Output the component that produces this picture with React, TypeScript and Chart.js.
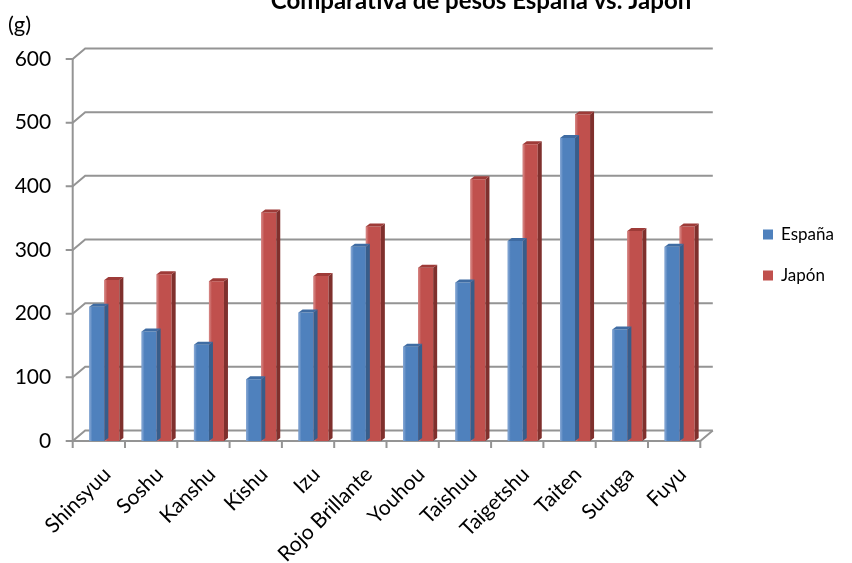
import React, { useEffect, useRef } from "react";
import { Chart, registerables } from "chart.js";

Chart.register(...registerables);

const titleText = "Comparativa de pesos España vs. Japón";
const unitLabel = "(g)";
const categories = [
  "Shinsyuu", "Soshu", "Kanshu", "Kishu", "Izu", "Rojo Brillante",
  "Youhou", "Taishuu", "Taigetshu", "Taiten", "Suruga", "Fuyu",
];
const seriesNames = ["España", "Japón"];
const espana = [211, 172, 151, 97, 202, 305, 148, 249, 314, 476, 175, 305];
const japon = [253, 262, 251, 359, 259, 337, 272, 411, 466, 513, 330, 337];
const yTicks = [0, 100, 200, 300, 400, 500, 600];

const FONT = "Lato, 'Liberation Sans', sans-serif";
const frontColors = ["#4F81BD", "#C0504D"];
const edgeColors = ["#8AAAD6", "#D88A88"];
const sideColors = ["#385D8A", "#7F302D"];
const topColors = ["#3F6CA3", "#9E3B38"];

const SHIFT = 5.5; // front frame offset from bar frame
const GDX = 12.5;
const GDY = 10.5;

const frame3d = {
  id: "frame3d",
  beforeDatasetsDraw(chart: any) {
    const { ctx, chartArea, scales } = chart;
    const y = scales.y;
    const n = categories.length;
    const cw = (chartArea.right - chartArea.left) / n;
    const xF = chartArea.left - SHIFT;
    const xR = chartArea.right - SHIFT;
    const y0 = y.getPixelForValue(0);
    const yTop = y.getPixelForValue(yTicks[yTicks.length - 1]);
    ctx.save();
    ctx.strokeStyle = "#949494";
    ctx.lineWidth = 2;
    yTicks.forEach((v) => {
      const yy = y.getPixelForValue(v);
      ctx.beginPath();
      ctx.moveTo(xF - 7, yy);
      ctx.lineTo(xF, yy);
      ctx.lineTo(xF + GDX, yy - GDY);
      ctx.lineTo(xR + GDX, yy - GDY);
      ctx.stroke();
    });
    ctx.beginPath();
    ctx.moveTo(xF, y0);
    ctx.lineTo(xR, y0);
    ctx.lineTo(xR + GDX, y0 - GDY);
    ctx.stroke();
    ctx.beginPath();
    ctx.moveTo(xF, yTop);
    ctx.lineTo(xF, y0 + 7);
    for (let i = 1; i <= n; i++) {
      const xx = xF + i * cw;
      ctx.moveTo(xx, y0);
      ctx.lineTo(xx, y0 + 7);
    }
    ctx.stroke();
    ctx.restore();
  },
  afterDatasetDraw(chart: any, args: any) {
    const { ctx } = chart;
    const meta = chart.getDatasetMeta(args.index);
    const dx = 4, dy = 3;
    ctx.save();
    meta.data.forEach((el: any) => {
      const { x, y, base, width } = el.getProps(["x", "y", "base", "width"], true);
      const l = x - width / 2;
      const r = x + width / 2;
      const g = ctx.createLinearGradient(l, 0, l + 3, 0);
      g.addColorStop(0, edgeColors[args.index]);
      g.addColorStop(1, frontColors[args.index]);
      ctx.fillStyle = g;
      ctx.fillRect(l, y, 3, base - y);
      ctx.fillStyle = sideColors[args.index];
      ctx.beginPath();
      ctx.moveTo(r, y);
      ctx.lineTo(r + dx, y - dy);
      ctx.lineTo(r + dx, base - dy);
      ctx.lineTo(r, base);
      ctx.closePath();
      ctx.fill();
      ctx.fillStyle = topColors[args.index];
      ctx.beginPath();
      ctx.moveTo(l, y);
      ctx.lineTo(l + dx, y - dy);
      ctx.lineTo(r + dx, y - dy);
      ctx.lineTo(r, y);
      ctx.closePath();
      ctx.fill();
    });
    ctx.restore();
  },
  afterDraw(chart: any) {
    const { ctx } = chart;
    ctx.save();
    ctx.fillStyle = "#000";
    ctx.font = `bold 24px ${FONT}`;
    ctx.textAlign = "center";
    ctx.textBaseline = "alphabetic";
    ctx.fillText(titleText, 481, 9);
    ctx.font = `22px ${FONT}`;
    ctx.textAlign = "left";
    ctx.fillText(unitLabel, 8, 32);
    const ys = [234.5, 275.5];
    ctx.font = `17px ${FONT}`;
    ctx.textBaseline = "middle";
    seriesNames.forEach((name, i) => {
      ctx.fillStyle = frontColors[i];
      ctx.fillRect(763, ys[i] - 5, 10, 10);
      ctx.fillStyle = "#000";
      ctx.fillText(name, 781, ys[i]);
    });
    ctx.restore();
  },
};

export default function App() {
  const ref = useRef<HTMLCanvasElement | null>(null);
  useEffect(() => {
    if (!ref.current) return;
    const chart = new Chart(ref.current, {
      type: "bar",
      data: {
        labels: categories,
        datasets: [
          { label: seriesNames[0], data: espana, backgroundColor: frontColors[0], borderWidth: 0 },
          { label: seriesNames[1], data: japon, backgroundColor: frontColors[1], borderWidth: 0 },
        ],
      },
      options: {
        animation: false,
        responsive: true,
        maintainAspectRatio: false,
        layout: { padding: { top: 59, right: 146.2, left: 0, bottom: 0 } },
        datasets: { bar: { barPercentage: 1, categoryPercentage: 0.574 } },
        plugins: { legend: { display: false }, tooltip: { enabled: false }, title: { display: false } },
        scales: {
          x: {
            grid: { display: false, drawTicks: false },
            border: { display: false },
            ticks: {
              autoSkip: false,
              minRotation: 45,
              maxRotation: 45,
              padding: 21,
              labelOffset: 3,
              color: "#000",
              font: { family: FONT, size: 21 },
            },
            afterFit: (s: any) => { s.height = 563 - 441; },
          },
          y: {
            min: 0,
            max: 600,
            grid: { display: false, drawTicks: false },
            border: { display: false },
            afterBuildTicks: (s: any) => { s.ticks = yTicks.map((v) => ({ value: v })); },
            ticks: { padding: 27, color: "#000", font: { family: FONT, size: 21 } },
            afterFit: (s: any) => { s.width = 78.2; },
          },
        },
      },
      plugins: [frame3d],
    });
    return () => chart.destroy();
  }, []);
  return (
    <div style={{ position: "fixed", left: 0, top: 0, width: 852, height: 563, background: "#fff" }}>
      <canvas ref={ref} />
    </div>
  );
}
